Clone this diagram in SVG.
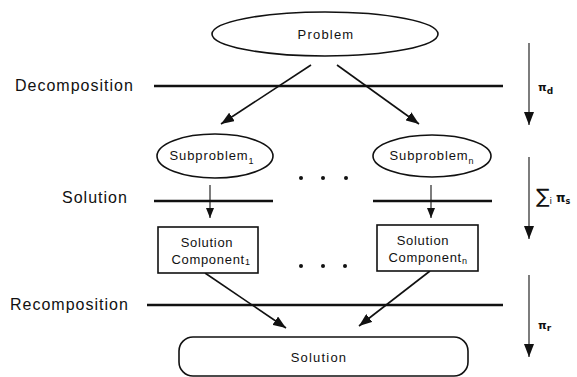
<svg xmlns="http://www.w3.org/2000/svg" width="577" height="377" viewBox="0 0 577 377">
<style>
.bg{fill:#fff}
.node{fill:#fff;stroke:#111;stroke-width:1.6}
.bar{stroke:#111;stroke-width:2.4;fill:none}
.edge{stroke:#111;stroke-width:1.6;fill:none}
.thin{stroke:#111;stroke-width:1.1;fill:none}
.t{font-family:"Liberation Sans",Arial,sans-serif;fill:#111}
.lbl{font-size:16px;letter-spacing:1px}
.nt{font-size:13px;text-anchor:middle;letter-spacing:0.9px}
.sub{font-size:9px}
.gr{font-family:"DejaVu Sans","Liberation Serif",serif;fill:#111;font-weight:bold}
.dot{fill:#111}
</style>
<defs>
<marker id="ah" viewBox="0 0 10 8" refX="10" refY="4" markerWidth="10" markerHeight="8" markerUnits="userSpaceOnUse" orient="auto">
<path d="M0,0 L10,4 L0,8 Z" fill="#111"/>
</marker>
<marker id="ahl" viewBox="0 0 13 10" refX="13" refY="5" markerWidth="13" markerHeight="10" markerUnits="userSpaceOnUse" orient="auto">
<path d="M0,0 L13,5 L0,10 Z" fill="#111"/>
</marker>
</defs>
<rect class="bg" width="577" height="377"/>

<g id="layer-labels">
<text class="t lbl" x="15" y="91">Decomposition</text>
<text class="t lbl" x="62" y="203">Solution</text>
<text class="t lbl" x="10" y="310">Recomposition</text>
</g>

<g id="bars">
<line class="bar" x1="154" y1="86" x2="503" y2="86"/>
<line class="bar" x1="154" y1="201" x2="273" y2="201"/>
<line class="bar" x1="373" y1="201" x2="492" y2="201"/>
<line class="bar" x1="147" y1="305" x2="503" y2="305"/>
</g>

<g id="connectors">
<line class="edge" x1="311" y1="65" x2="221" y2="124" marker-end="url(#ahl)"/>
<line class="edge" x1="337" y1="65" x2="419" y2="124" marker-end="url(#ahl)"/>
<line class="thin" x1="210" y1="185" x2="210" y2="218" marker-end="url(#ah)"/>
<line class="thin" x1="431" y1="185" x2="431" y2="218" marker-end="url(#ah)"/>
<line class="edge" x1="205" y1="273" x2="286" y2="328" marker-end="url(#ahl)"/>
<line class="edge" x1="430" y1="271" x2="359" y2="326" marker-end="url(#ahl)"/>
</g>

<g id="problem">
<ellipse class="node" cx="325" cy="34" rx="113" ry="22"/>
<text class="t nt" x="326" y="39" style="letter-spacing:1.2px">Problem</text>
</g>

<g id="subproblem-1">
<ellipse class="node" cx="215" cy="156" rx="58" ry="22"/>
<text class="t nt" x="212" y="160">Subproblem<tspan class="sub" dy="4">1</tspan></text>
</g>

<g id="subproblem-n">
<ellipse class="node" cx="432" cy="156" rx="59" ry="21"/>
<text class="t nt" x="432" y="160">Subproblem<tspan class="sub" dy="4">n</tspan></text>
</g>

<g id="dots-1">
<circle class="dot" cx="301" cy="178" r="2"/>
<circle class="dot" cx="323" cy="178" r="2"/>
<circle class="dot" cx="346" cy="178" r="2"/>
</g>

<g id="component-1">
<rect class="node" x="158" y="227" width="100" height="46"/>
<text class="t nt" x="207" y="247" style="letter-spacing:0.7px">Solution</text>
<text class="t nt" x="211" y="264" style="letter-spacing:0.7px">Component<tspan class="sub" dy="1">1</tspan></text>
</g>

<g id="component-n">
<rect class="node" x="377" y="225" width="101" height="46"/>
<text class="t nt" x="423" y="245" style="letter-spacing:0.7px">Solution</text>
<text class="t nt" x="428" y="262" style="letter-spacing:0.7px">Component<tspan class="sub" dy="2">n</tspan></text>
</g>

<g id="dots-2">
<circle class="dot" cx="301" cy="266" r="2"/>
<circle class="dot" cx="323" cy="266" r="2"/>
<circle class="dot" cx="345" cy="266" r="2"/>
</g>

<g id="solution">
<rect class="node" x="179" y="337" width="289" height="39" rx="14" ry="14"/>
<text class="t nt" x="319" y="362" style="letter-spacing:1.2px">Solution</text>
</g>

<g id="costs">
<line class="thin" x1="529" y1="43" x2="529" y2="125" marker-end="url(#ahl)"/>
<line class="thin" x1="529" y1="157" x2="529" y2="239" marker-end="url(#ahl)"/>
<line class="thin" x1="529" y1="275" x2="529" y2="357" marker-end="url(#ahl)"/>
<text class="gr" x="538" y="91" font-size="11">π<tspan font-size="9" dy="3">d</tspan></text>
<text class="gr" x="536" y="203" font-size="20" style="font-weight:normal">∑<tspan font-size="9" dy="1">i</tspan><tspan font-size="12" dx="4" dy="-2" style="font-weight:bold">π</tspan><tspan font-size="8" dy="2" style="font-weight:bold">s</tspan></text>
<text class="gr" x="538" y="329" font-size="11">π<tspan font-size="9" dy="2">r</tspan></text>
</g>
</svg>
